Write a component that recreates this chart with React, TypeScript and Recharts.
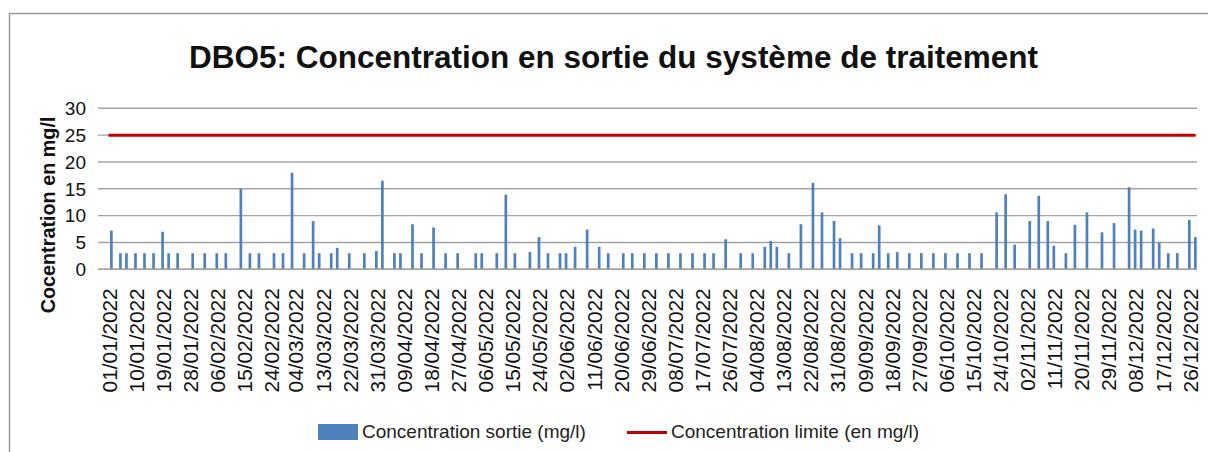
import React from 'react';
import { ComposedChart, Bar, Line, XAxis, YAxis, CartesianGrid, Legend, Customized, Label } from 'recharts';

const FONT = '"Liberation Sans", Arial, sans-serif';

const year = '2022';
// sampling days (dd/mm) and measured BOD5 at the outlet, mg/l
const sampleDays = [
  '01/01', '04/01', '06/01', '09/01', '12/01', '15/01', '18/01', '20/01', '23/01', '28/01',
  '01/02', '05/02', '08/02', '13/02', '16/02', '19/02', '24/02', '27/02',
  '02/03', '06/03', '09/03', '11/03', '15/03', '17/03', '21/03', '26/03', '30/03',
  '01/04', '05/04', '07/04', '11/04', '14/04', '18/04', '22/04', '26/04',
  '02/05', '04/05', '09/05', '12/05', '15/05', '20/05', '23/05', '26/05', '30/05',
  '01/06', '04/06', '08/06', '12/06', '15/06', '20/06', '23/06', '27/06',
  '01/07', '05/07', '09/07', '13/07', '17/07', '20/07', '24/07', '29/07',
  '02/08', '06/08', '08/08', '10/08', '14/08', '18/08', '22/08', '25/08', '29/08', '31/08',
  '04/09', '07/09', '11/09', '13/09', '16/09', '19/09', '23/09', '27/09',
  '01/10', '05/10', '09/10', '13/10', '17/10', '22/10', '25/10', '28/10',
  '02/11', '05/11', '08/11', '10/11', '14/11', '17/11', '21/11', '26/11', '30/11',
  '05/12', '07/12', '09/12', '13/12', '15/12', '18/12', '21/12', '25/12', '27/12',
];
const sampleValues = [
  7.2, 3, 3, 3, 3, 3, 7, 3, 3, 3,
  3, 3, 3, 15, 3, 3, 3, 3,
  18, 3, 9, 3, 3, 4, 3, 3, 3.4,
  16.5, 3, 3, 8.4, 3, 7.8, 3, 3,
  3, 3, 3, 13.9, 3, 3.2, 6, 3, 3,
  3, 4.2, 7.4, 4.2, 3, 3, 3, 3,
  3, 3, 3, 3, 3, 3, 5.6, 3,
  3, 4.2, 5.3, 4.2, 3, 8.4, 16.1, 10.6, 9, 5.8,
  3, 3, 3, 8.2, 3, 3.2, 3, 3,
  3, 3, 3, 3, 3, 10.6, 14, 4.6,
  9, 13.7, 9, 4.4, 3, 8.3, 10.6, 6.9, 8.6,
  15.3, 7.4, 7.2, 7.6, 5, 3, 3, 9.2, 6,
];

const limitValue = 25;
const limitFrom = '31/12/2021';

// date axis: one slot per day
const axisFirstDay = Date.UTC(2021, 11, 28);
const axisDayCount = 365;

const tickDates = [
  '01/01/2022', '10/01/2022', '19/01/2022', '28/01/2022', '06/02/2022', '15/02/2022', '24/02/2022',
  '04/03/2022', '13/03/2022', '22/03/2022', '31/03/2022', '09/04/2022', '18/04/2022', '27/04/2022',
  '06/05/2022', '15/05/2022', '24/05/2022', '02/06/2022', '11/06/2022', '20/06/2022', '29/06/2022',
  '08/07/2022', '17/07/2022', '26/07/2022', '04/08/2022', '13/08/2022', '22/08/2022', '31/08/2022',
  '09/09/2022', '18/09/2022', '27/09/2022', '06/10/2022', '15/10/2022', '24/10/2022', '02/11/2022',
  '11/11/2022', '20/11/2022', '29/11/2022', '08/12/2022', '17/12/2022', '26/12/2022',
];
const yTicks = [0, 5, 10, 15, 20, 25, 30];

const pad = (n: number) => (n < 10 ? '0' + n : '' + n);
const fmt = (t: number) => {
  const d = new Date(t);
  return pad(d.getUTCDate()) + '/' + pad(d.getUTCMonth() + 1) + '/' + d.getUTCFullYear();
};

const measured: Record<string, number> = {};
sampleDays.forEach((d, i) => {
  measured[d + '/' + year] = sampleValues[i];
});

const allDays = Array.from({ length: axisDayCount }, (_, i) => fmt(axisFirstDay + i * 86400000));
const limitStart = allDays.indexOf(limitFrom);
const rows = allDays.map((date, i) => ({
  date,
  sortie: measured[date] ?? null,
  limite: i >= limitStart ? limitValue : null,
}));

const DateTick = (props: any) => {
  const { x, y, payload } = props;
  return (
    <text
      x={x}
      y={y}
      transform={`rotate(-90 ${x} ${y})`}
      textAnchor="end"
      dy="0.25em"
      fontSize={20.8}
      fontFamily={FONT}
      fill="#111"
    >
      {payload.value}
    </text>
  );
};

const YTitle = () => (
  <text
    x={48}
    y={215}
    transform="rotate(-90 48 215)"
    textAnchor="middle"
    dominantBaseline="central"
    fontSize={19.8}
    fontWeight="bold"
    fontFamily={FONT}
    fill="#111"
  >
    Cocentration en mg/l
  </text>
);

const Decor = () => (
  <g>
    <rect x={9.5} y={13.5} width={1400} height={600} fill="none" stroke="#999" strokeWidth={1.5} />
    <text x={613.5} y={68} textAnchor="middle" fontSize={31.5} fontWeight="bold" fontFamily={FONT} fill="#111">
      DBO5: Concentration en sortie du système de traitement
    </text>
  </g>
);

const legendText: React.CSSProperties = {
  position: 'absolute',
  top: 18,
  fontSize: 19,
  lineHeight: '24px',
  fontFamily: FONT,
  color: '#222',
  whiteSpace: 'nowrap',
};

const renderLegend = () => (
  <div style={{ position: 'relative', width: 1208, height: 50 }}>
    <div style={{ position: 'absolute', left: 318, top: 22, width: 40, height: 16, background: '#4F81BD' }} />
    <span style={{ ...legendText, left: 362 }}>Concentration sortie (mg/l)</span>
    <div style={{ position: 'absolute', left: 627, top: 28.5, width: 40, height: 3, background: '#C00000' }} />
    <span style={{ ...legendText, left: 671 }}>Concentration limite (en mg/l)</span>
  </div>
);

export default function App() {
  return (
    <div style={{ position: 'absolute', left: 0, top: 0, background: '#fff' }}>
      <ComposedChart
        width={1208}
        height={452}
        data={rows}
        margin={{ top: 108.3, right: 11, bottom: 0, left: 0 }}
      >
        <Customized component={Decor} />
        <CartesianGrid vertical={false} stroke="#a3a3a3" strokeWidth={1.4} />
        <XAxis
          dataKey="date"
          ticks={tickDates}
          interval={0}
          tickLine={false}
          tickSize={0}
          tickMargin={19}
          axisLine={{ stroke: '#a3a3a3', strokeWidth: 1.4 }}
          height={132.7}
          tick={<DateTick />}
        />
        <YAxis
          domain={[0, 30]}
          ticks={yTicks}
          interval={0}
          width={98}
          tickLine={false}
          axisLine={false}
          tickSize={0}
          tickMargin={12}
          tick={{ fontSize: 19, fill: '#111', fontFamily: FONT }}
        >
          <Label content={<YTitle />} />
        </YAxis>
        <Bar dataKey="sortie" name="Concentration sortie (mg/l)" fill="#4F81BD" barSize={2.7} isAnimationActive={false} />
        <Line
          dataKey="limite"
          name="Concentration limite (en mg/l)"
          stroke="#C00000"
          strokeWidth={3}
          dot={false}
          activeDot={false}
          isAnimationActive={false}
        />
        <Legend verticalAlign="bottom" height={50} content={renderLegend} wrapperStyle={{ left: 0, width: 1208 }} />
      </ComposedChart>
    </div>
  );
}
